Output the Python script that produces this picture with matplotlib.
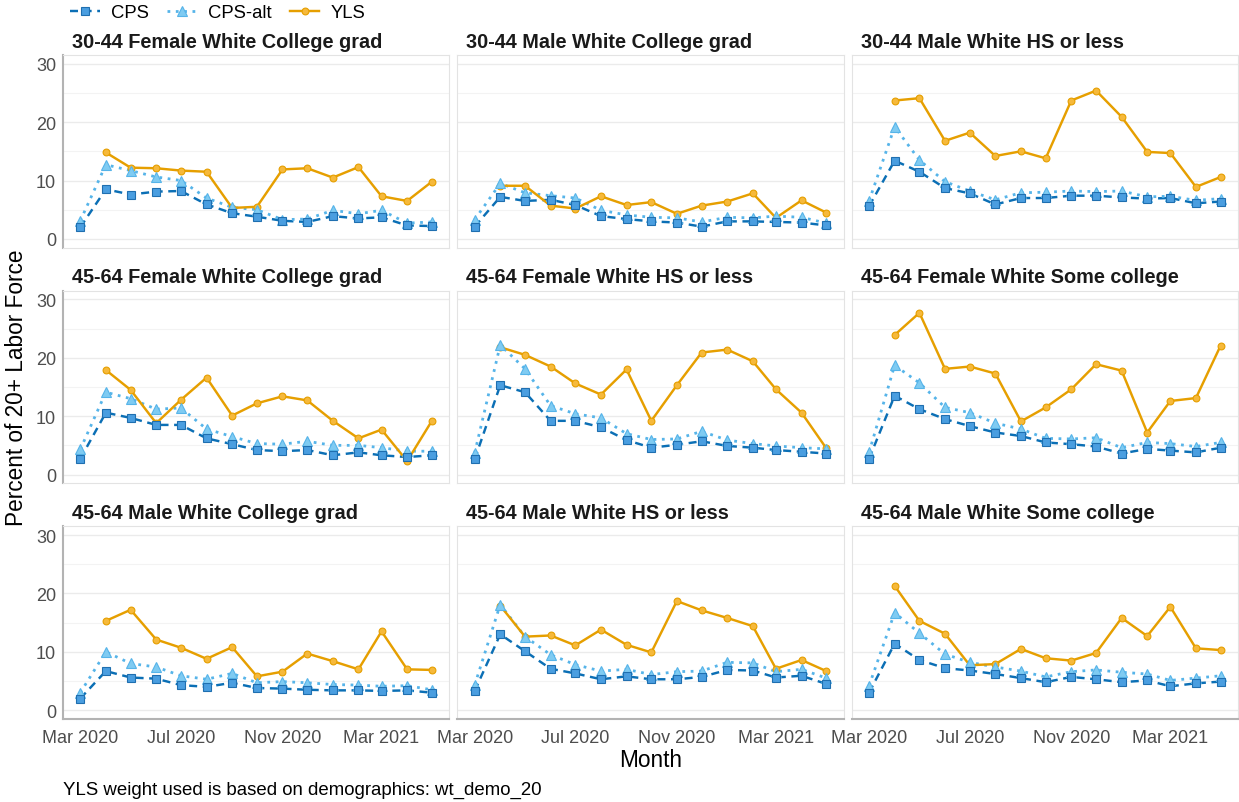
"""
Unemployment share by demographic cell: CPS vs CPS-alt vs YLS, monthly.
"""

import matplotlib
matplotlib.use("Agg")
import matplotlib.pyplot as plt
from matplotlib.lines import Line2D
import pandas as pd

plt.rcParams["font.family"] = ["Liberation Sans", "DejaVu Sans"]

# --- data ---
months = pd.date_range("2020-03-01", "2021-05-01", freq="MS")
yls_months = months[1:]

panel_titles = [
    "30-44 Female White College grad",
    "30-44 Male White College grad",
    "30-44 Male White HS or less",
    "45-64 Female White College grad",
    "45-64 Female White HS or less",
    "45-64 Female White Some college",
    "45-64 Male White College grad",
    "45-64 Male White HS or less",
    "45-64 Male White Some college",
]

cps = [
    [2.0, 8.5, 7.6, 8.1, 8.2, 5.9, 4.4, 3.8, 3.1, 2.9, 3.9, 3.5, 3.7, 2.3, 2.2],
    [2.1, 7.2, 6.5, 6.7, 5.8, 3.9, 3.4, 3.0, 2.8, 2.1, 3.0, 3.0, 2.9, 2.8, 2.3],
    [5.6, 13.4, 11.5, 8.7, 7.8, 5.9, 7.0, 7.0, 7.4, 7.4, 7.1, 6.9, 7.0, 6.1, 6.4],
    [2.7, 10.6, 9.7, 8.5, 8.5, 6.2, 5.2, 4.2, 4.0, 4.2, 3.3, 3.8, 3.3, 3.0, 3.3],
    [2.6, 15.3, 14.1, 9.2, 9.2, 8.1, 5.9, 4.6, 5.1, 5.7, 4.9, 4.6, 4.2, 3.9, 3.6],
    [2.7, 13.5, 11.2, 9.5, 8.3, 7.2, 6.6, 5.5, 5.2, 4.8, 3.6, 4.4, 4.1, 3.8, 4.6],
    [2.0, 6.7, 5.6, 5.4, 4.3, 4.0, 4.7, 3.8, 3.7, 3.5, 3.4, 3.4, 3.3, 3.4, 3.0],
    [3.3, 13.0, 10.1, 7.1, 6.3, 5.3, 5.8, 5.3, 5.3, 5.7, 6.9, 6.8, 5.6, 5.9, 4.5],
    [3.0, 11.4, 8.6, 7.2, 6.8, 6.2, 5.5, 4.8, 5.7, 5.3, 4.8, 5.1, 4.1, 4.6, 4.9],
]

cps_alt = [
    [3.1, 12.7, 11.7, 10.6, 10.0, 7.0, 5.4, 5.0, 3.3, 3.4, 4.9, 4.3, 4.9, 2.7, 2.9],
    [3.3, 9.5, 7.9, 7.4, 7.0, 4.9, 4.1, 3.7, 3.6, 2.9, 3.7, 3.6, 3.9, 3.7, 2.7],
    [6.5, 19.2, 13.5, 9.8, 8.2, 6.7, 7.9, 8.0, 8.2, 8.1, 8.2, 7.2, 7.3, 6.6, 6.9],
    [4.3, 14.1, 13.0, 11.2, 11.4, 7.8, 6.5, 5.3, 5.2, 5.7, 5.0, 5.0, 4.6, 4.0, 4.0],
    [3.7, 22.2, 18.1, 11.8, 10.4, 9.7, 7.0, 6.0, 6.1, 7.4, 5.9, 5.3, 4.9, 4.6, 4.4],
    [3.8, 18.7, 15.7, 11.5, 10.6, 8.8, 7.8, 6.2, 6.1, 6.3, 4.6, 5.5, 5.3, 4.8, 5.5],
    [3.0, 10.0, 8.0, 7.4, 5.9, 5.3, 6.3, 4.7, 4.9, 4.7, 4.4, 4.3, 4.1, 4.2, 3.5],
    [4.3, 18.1, 12.6, 9.5, 7.8, 6.7, 7.0, 6.1, 6.6, 6.7, 8.2, 8.1, 6.6, 7.0, 5.5],
    [4.2, 16.7, 13.2, 9.6, 8.2, 7.4, 6.7, 5.7, 6.6, 6.9, 6.5, 6.2, 5.1, 5.5, 5.9],
]

# YLS starts in Apr 2020
yls = [
    [14.8, 12.2, 12.1, 11.7, 11.5, 5.3, 5.5, 11.9, 12.1, 10.5, 12.3, 7.3, 6.5, 9.8],
    [9.1, 9.1, 5.7, 5.2, 7.3, 5.8, 6.3, 4.3, 5.7, 6.4, 7.8, 3.6, 6.6, 4.5],
    [23.7, 24.1, 16.8, 18.2, 14.2, 15.0, 13.8, 23.7, 25.4, 20.9, 14.9, 14.7, 8.9, 10.6],
    [17.9, 14.5, 8.8, 12.8, 16.6, 10.1, 12.2, 13.4, 12.7, 9.2, 6.2, 7.7, 2.3, 9.2],
    [21.8, 20.5, 18.5, 15.6, 13.7, 18.0, 9.2, 15.3, 20.9, 21.4, 19.4, 14.6, 10.6, 4.5],
    [23.9, 27.7, 18.1, 18.5, 17.3, 9.1, 11.5, 14.6, 18.9, 17.8, 7.2, 12.6, 13.1, 22.1],
    [15.3, 17.2, 12.1, 10.7, 8.8, 10.8, 5.8, 6.6, 9.7, 8.4, 7.0, 13.5, 7.0, 6.9],
    [17.9, 12.6, 12.8, 11.1, 13.8, 11.2, 9.9, 18.7, 17.1, 15.8, 14.4, 7.1, 8.6, 6.7],
    [21.3, 15.3, 13.1, 7.7, 7.9, 10.5, 8.9, 8.5, 9.8, 15.8, 12.7, 17.7, 10.6, 10.3],
]

tick_months = pd.to_datetime(["2020-03-01", "2020-07-01", "2020-11-01", "2021-03-01"])
tick_labels = ["Mar 2020", "Jul 2020", "Nov 2020", "Mar 2021"]

# --- styles ---
CPS_STYLE = dict(color="#0B6FB5", ls=(0, (3.3, 2.3)), lw=1.75)
ALT_STYLE = dict(color="#56B4E9", ls=(0, (1, 2.0)), lw=2.0)
YLS_STYLE = dict(color="#E69F00", ls="-", lw=1.75)
CPS_MARK = dict(marker="s", ms=5.3, mfc="#4A9EE0", mec="#1F6FB0", mew=0.8)
ALT_MARK = dict(marker="^", ms=6.8, mfc="#7FCBF2", mec="#56B4E9", mew=0.8)
YLS_MARK = dict(marker="o", ms=4.9, mfc="#F6B93B", mec="#E69F00", mew=0.8)

fig = plt.figure(figsize=(12.39, 8.03), dpi=100)
axes = fig.subplots(3, 3, sharex=True, sharey=True)
fig.subplots_adjust(left=0.0508, right=0.9992, top=0.9303, bottom=0.1034,
                    wspace=0.021, hspace=0.223)

pad = pd.Timedelta(days=21)
for i, ax in enumerate(axes.flat):
    row, col = divmod(i, 3)

    # lines first, markers on top (as ggplot does)
    ax.plot(months, cps[i], zorder=2, **CPS_STYLE)
    ax.plot(months, cps_alt[i], zorder=2, **ALT_STYLE)
    ax.plot(yls_months, yls[i], zorder=2, **YLS_STYLE)
    ax.plot(yls_months, yls[i], ls="none", zorder=3, **YLS_MARK)
    ax.plot(months, cps_alt[i], ls="none", zorder=4, **ALT_MARK)
    ax.plot(months, cps[i], ls="none", zorder=5, **CPS_MARK)

    ax.set_xlim(months[0] - pad, months[-1] + pad)
    ax.set_ylim(-1.5, 31.5)
    ax.set_yticks([0, 10, 20, 30])
    ax.set_yticks([5, 15, 25], minor=True)
    ax.set_xticks(tick_months)
    ax.set_xticklabels(tick_labels)
    ax.tick_params(which="both", length=0, labelsize=13,
                   labelcolor="#4D4D4D", pad=5)
    ax.tick_params(axis="x", pad=7)
    ax.grid(True, axis="y", which="major", color="#EBEBEB", lw=1.0)
    ax.grid(True, axis="y", which="minor", color="#F3F3F3", lw=0.8)
    ax.set_axisbelow(True)

    for side in ("top", "right", "bottom", "left"):
        ax.spines[side].set_color("#E3E3E3")
        ax.spines[side].set_linewidth(0.8)
    if col == 0:
        ax.spines["left"].set_color("#B3B3B3")
        ax.spines["left"].set_linewidth(1.5)
    if row == 2:
        ax.spines["bottom"].set_color("#B3B3B3")
        ax.spines["bottom"].set_linewidth(1.5)

    ax.set_title(panel_titles[i], loc="left", x=0.023, pad=6,
                 fontsize=14.3, fontweight="bold", color="#1A1A1A")

handles = [
    Line2D([], [], **CPS_STYLE, **CPS_MARK),
    Line2D([], [], **ALT_STYLE, **ALT_MARK),
    Line2D([], [], **YLS_STYLE, **YLS_MARK),
]
fig.legend(handles, ["CPS", "CPS-alt", "YLS"], loc="center left",
           bbox_to_anchor=(0.0565, 0.9826), ncol=3, frameon=False,
           fontsize=13.3, handlelength=1.6, handletextpad=0.6,
           columnspacing=1.0, borderpad=0, borderaxespad=0)

fig.text(0.013, 0.517, "Percent of 20+ Labor Force", rotation=90,
         ha="center", va="center", fontsize=16.3)
fig.text(0.525, 0.0535, "Month", ha="center", va="center", fontsize=16.3)
fig.text(0.0508, 0.0162, "YLS weight used is based on demographics: wt_demo_20",
         ha="left", va="center", fontsize=13.4)

fig.savefig("out.png", dpi=100)
